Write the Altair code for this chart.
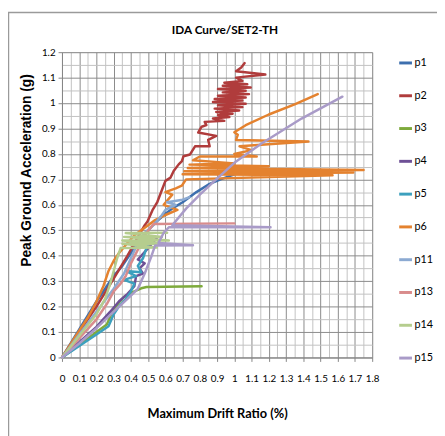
import altair as alt
import pandas as pd

SERIES = ["p1", "p2", "p3", "p4", "p5", "p6", "p11", "p13", "p14", "p15"]
COLORS = ["#3D6FAE", "#B03C3C", "#7EAA3C", "#6E5096", "#3CA0BE",
          "#E4822F", "#8CAAD2", "#D98C8C", "#B5CD8E", "#A99BC8"]
TITLE = "IDA Curve/SET2-TH"

p1 = [(0, 0), (0.1, 0.11), (0.2, 0.22), (0.25, 0.27), (0.3, 0.32), (0.35, 0.36), (0.4, 0.41),
      (0.45, 0.46), (0.5, 0.5), (0.55, 0.535), (0.6, 0.565), (0.65, 0.59), (0.7, 0.61),
      (0.78, 0.65), (0.85, 0.68), (0.92, 0.70), (1.0, 0.72)]
p2 = [(0, 0), (0.1, 0.1), (0.2, 0.2), (0.3, 0.31), (0.38, 0.4), (0.43, 0.46), (0.48, 0.52),
      (0.496, 0.534), (0.525, 0.579), (0.553, 0.611), (0.582, 0.662), (0.6, 0.694),
      (0.63, 0.707), (0.648, 0.733), (0.677, 0.759), (0.696, 0.772), (0.705, 0.791),
      (0.743, 0.798), (0.772, 0.83), (0.857, 0.83), (0.848, 0.855), (0.895, 0.871),
      (0.79, 0.884), (0.81, 0.907), (0.838, 0.913), (0.828, 0.926), (0.942, 0.93),
      (0.876, 0.939), (0.971, 0.945), (0.905, 0.952), (0.99, 0.958), (0.895, 0.965),
      (1.028, 0.971), (0.886, 0.978), (1.047, 0.984), (0.905, 0.991), (1.066, 0.997),
      (0.876, 1.004), (1.047, 1.01), (0.886, 1.016), (1.066, 1.022), (0.905, 1.029),
      (1.085, 1.035), (0.933, 1.042), (1.066, 1.048), (0.905, 1.055), (1.095, 1.061),
      (0.933, 1.068), (1.075, 1.074), (0.942, 1.08), (1.047, 1.087), (1.01, 1.1),
      (1.18, 1.112), (1.01, 1.125), (1.04, 1.14), (1.06, 1.157)]
p3 = [(0, 0), (0.1, 0.05), (0.2, 0.1), (0.26, 0.13), (0.28, 0.16), (0.3, 0.19), (0.33, 0.215),
      (0.36, 0.238), (0.42, 0.26), (0.46, 0.272), (0.49, 0.277), (0.6, 0.278), (0.81, 0.28)]
p4 = [(0, 0), (0.1, 0.06), (0.2, 0.12), (0.28, 0.18), (0.33, 0.22), (0.38, 0.25), (0.42, 0.28),
      (0.43, 0.32), (0.47, 0.33), (0.45, 0.35), (0.48, 0.37), (0.44, 0.385), (0.46, 0.4),
      (0.5, 0.43), (0.55, 0.47)]
p5 = [(0, 0), (0.1, 0.045), (0.2, 0.09), (0.27, 0.123), (0.3, 0.17), (0.33, 0.2), (0.37, 0.23),
      (0.4, 0.26), (0.42, 0.29), (0.36, 0.305), (0.43, 0.32), (0.37, 0.34), (0.46, 0.335),
      (0.44, 0.36), (0.47, 0.39), (0.49, 0.43), (0.52, 0.47)]
p6 = [(0, 0), (0.1, 0.105), (0.154, 0.161), (0.2, 0.22), (0.24, 0.28), (0.27, 0.34), (0.3, 0.38),
      (0.33, 0.41), (0.38, 0.45), (0.42, 0.48), (0.46, 0.5), (0.5, 0.52), (0.54, 0.54),
      (0.6, 0.56), (0.67, 0.58), (0.59, 0.6), (0.64, 0.64), (0.6, 0.65), (0.66, 0.665),
      (0.695, 0.675), (0.72, 0.70), (1.57, 0.716), (0.70, 0.72), (1.69, 0.727), (0.71, 0.732),
      (1.75, 0.737), (0.73, 0.745), (1.2, 0.752), (0.74, 0.758), (1.0, 0.763), (0.76, 0.775),
      (0.8, 0.79), (1.13, 0.79), (1.0, 0.8), (1.1, 0.815), (1.03, 0.83), (1.43, 0.849),
      (1.01, 0.855), (1.02, 0.875), (1.0, 0.885), (1.066, 0.913), (1.2, 0.955),
      (1.35, 0.995), (1.484, 1.035)]
p11 = [(0, 0), (0.1, 0.09), (0.2, 0.18), (0.3, 0.27), (0.36, 0.33), (0.4, 0.39), (0.44, 0.45),
       (0.48, 0.49), (0.53, 0.52), (0.58, 0.56), (0.6, 0.58), (0.66, 0.6), (0.61, 0.61),
       (0.7, 0.62), (0.74, 0.63)]
p13 = [(0, 0), (0.1, 0.075), (0.2, 0.15), (0.26, 0.21), (0.3, 0.26), (0.34, 0.29), (0.37, 0.32),
       (0.4, 0.37), (0.43, 0.41), (0.46, 0.45), (0.49, 0.49), (0.52, 0.515), (0.53, 0.525),
       (1.0, 0.527)]
p14 = [(0, 0), (0.1, 0.085), (0.2, 0.17), (0.25, 0.23), (0.28, 0.29), (0.3, 0.34), (0.32, 0.39),
       (0.34, 0.43), (0.55, 0.432), (0.35, 0.447), (0.58, 0.447), (0.35, 0.46), (0.62, 0.46),
       (0.36, 0.474), (0.58, 0.474), (0.37, 0.489), (0.61, 0.49)]
p15 = [(0, 0), (0.1, 0.055), (0.2, 0.115), (0.3, 0.18), (0.38, 0.23), (0.44, 0.27), (0.48, 0.33),
       (0.52, 0.4), (0.54, 0.44), (0.76, 0.441), (0.56, 0.45), (0.59, 0.49), (0.62, 0.512),
       (1.21, 0.512), (0.64, 0.52), (0.72, 0.585), (0.8, 0.64), (0.876, 0.688), (1.0, 0.765),
       (1.16, 0.842), (1.39, 0.939), (1.627, 1.025)]

X_TICKS = [round(i * 0.05, 2) for i in range(37)]
Y_TICKS = [round(i * 0.05, 2) for i in range(25)]

rows = []
for name, pts in zip(SERIES, [p1, p2, p3, p4, p5, p6, p11, p13, p14, p15]):
    for i, (x, y) in enumerate(pts):
        rows.append({"series": name, "drift": x, "pga": y, "order": i})
df = pd.DataFrame(rows)

NARROW = "Lato"
MAJOR = "round(datum.value*20)%2==0"
LABEL = "round(datum.value*20)%2==0 ? format(datum.value, '.1~f') : ''"
grid_color = {"condition": {"test": MAJOR, "value": "#8a8a8a"}, "value": "#c2c2c2"}
tick_color = {"condition": {"test": MAJOR, "value": "#868686"}, "value": "transparent"}

W, H = 316, 311

lines = alt.Chart(df).mark_line(strokeWidth=2.5, strokeJoin="round", strokeCap="round").encode(
    x=alt.X("drift:Q", scale=alt.Scale(domain=[0, 1.8], nice=False, zero=True),
            axis=alt.Axis(values=X_TICKS, grid=True, gridColor=grid_color, tickColor=tick_color,
                          tickSize=4, labelExpr=LABEL, labelFont=NARROW, labelFontSize=10,
                          labelColor="#000", labelPadding=12, labelFlush=False,
                          labelOverlap=False, domainColor="#868686",
                          title="Maximum Drift Ratio (%)", titleFont=NARROW,
                          titleFontSize=13, titleFontWeight="bold", titleColor="#000",
                          titleX=W / 2, titleY=57, titleBaseline="middle", titleAlign="center")),
    y=alt.Y("pga:Q", scale=alt.Scale(domain=[0, 1.2], nice=False, zero=True),
            axis=alt.Axis(values=Y_TICKS, grid=True, gridColor=grid_color, tickColor=tick_color,
                          tickSize=4, labelExpr=LABEL, labelFont=NARROW, labelFontSize=10,
                          labelColor="#000", labelPadding=3, labelFlush=False,
                          labelOverlap=False, domainColor="#868686",
                          title="Peak Ground Acceleration (g)",
                          titleFont="Liberation Sans, Arial, sans-serif",
                          titleFontSize=14, titleFontWeight="bold", titleColor="#000",
                          titleX=-36.5, titleY=120, titleAngle=-90, titleBaseline="middle",
                          titleAlign="center")),
    color=alt.Color("series:N", scale=alt.Scale(domain=SERIES, range=COLORS),
                    legend=alt.Legend(title=None, orient="none", legendX=342, legendY=3,
                                      symbolType="stroke", symbolSize=169, symbolStrokeWidth=3,
                                      rowPadding=19.4, labelFont=NARROW, labelFontSize=11,
                                      labelColor="#000", labelOffset=1, padding=0)),
    order=alt.Order("order:Q"),
)

one = pd.DataFrame({"a": [0]})
frame = alt.Chart(one).mark_rect(fill=None, stroke="#9a9a9a", strokeWidth=1.5).encode(
    x=alt.value(-54.5), x2=alt.value(420), y=alt.value(-40.5), y2=alt.value(420))

title = alt.Chart(one).mark_text(text=TITLE, font=NARROW, fontSize=12, fontWeight="bold",
                                 color="#000", align="center", baseline="middle").encode(
    x=alt.value(166), y=alt.value(-23))

chart = alt.layer(frame, lines, title).properties(
    width=W, height=H,
    autosize=alt.AutoSizeParams(type="none"),
    padding={"left": 55, "top": 41, "right": 66, "bottom": 76},
).configure_view(stroke=None).configure(background="white")

chart.save("out.html", embed_options={"renderer": "svg", "actions": False})
